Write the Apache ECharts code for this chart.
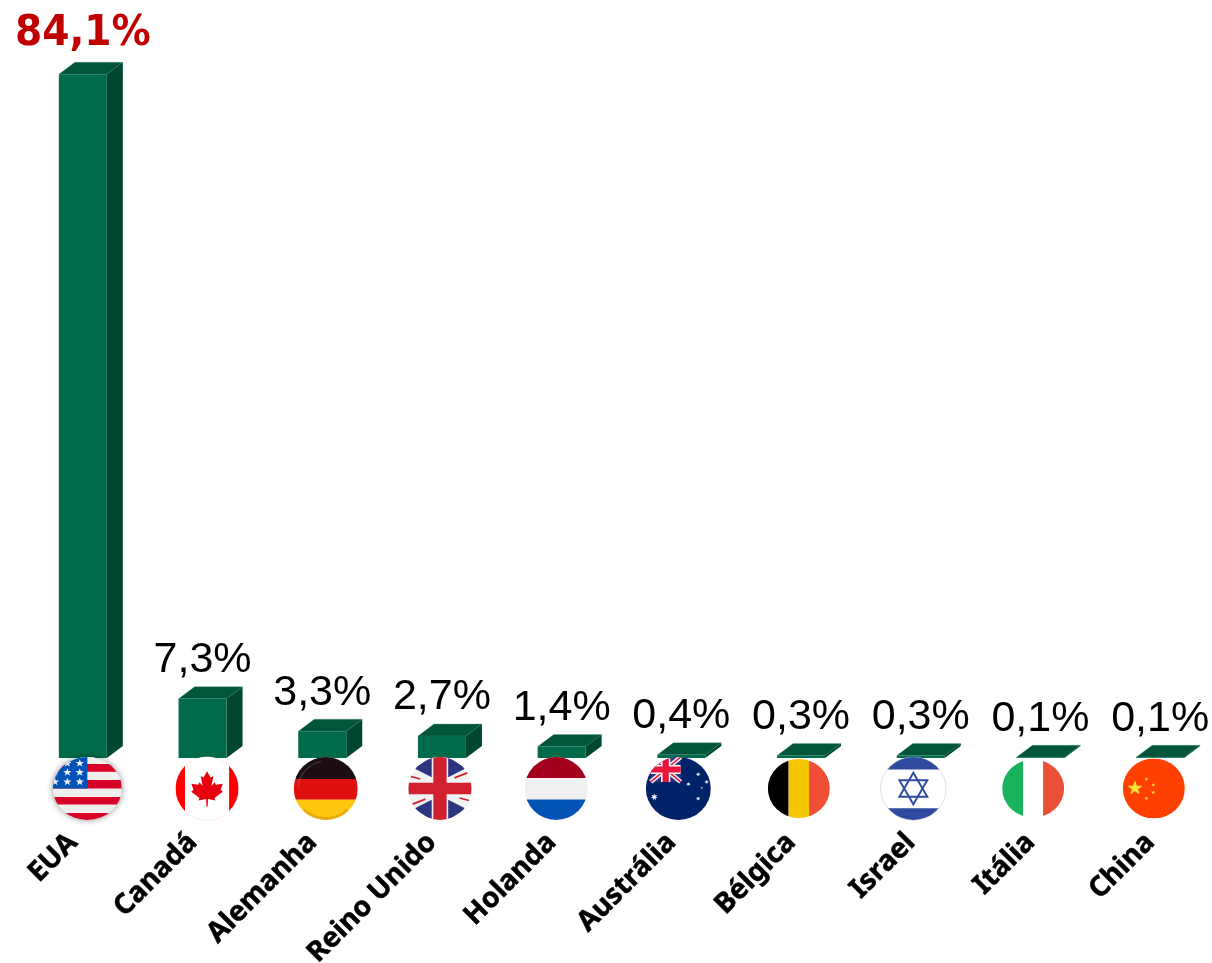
<!DOCTYPE html>
<html><head><meta charset="utf-8">
<style>html,body{margin:0;padding:0;background:#fff;overflow:hidden}#c{width:1212px;height:963px}</style>
<script src="https://cdn.jsdelivr.net/npm/echarts@6/dist/echarts.min.js"></script>
</head><body><div id="c"></div>
<script>
const categories = ['EUA','Canadá','Alemanha','Reino Unido','Holanda','Austrália','Bélgica','Israel','Itália','China'];
const shares = [84.1,7.3,3.3,2.7,1.4,0.4,0.3,0.3,0.1,0.1];
const flagCodes = ['us','ca','de','gb','nl','au','be','il','it','cn'];

const FRONT_W=48, DX=16, DY=12;
const flagDX=[4.5,4.5,3.5,-2,-5.5,-3,-2.2,-7.4,-7.3,-6.3], flagRX=[34.5,31.5,32,31.7,31.5,32.5,31,32.5,31,31], flagRY=[31.5,31.5,31.5,31.5,31.5,31.5,29.5,31.5,29,30];

function rect(x,y,w,h,fill){return {type:'rect',shape:{x,y,width:w,height:h},style:{fill}};}
function poly(points,fill,extra){return {type:'polygon',shape:{points},style:Object.assign({fill},extra||{})};}
function ln(x1,y1,x2,y2,stroke,lw){return {type:'line',shape:{x1,y1,x2,y2},style:{stroke,lineWidth:lw}};}
function star(cx,cy,R,fill,n){n=n||5;const p=[];const r=n===5?R*0.4:R*0.45;
  for(let i=0;i<n*2;i++){const a=-Math.PI/2+i*Math.PI/n,q=i%2?r:R;p.push([cx+q*Math.cos(a),cy+q*Math.sin(a)]);}
  return poly(p,fill);}
function unionJack(x0,y0,x1,y1,lwScale){
  const cx=(x0+x1)/2,cy=(y0+y1)/2,s=lwScale;
  return [rect(x0,y0,x1-x0,y1-y0,'#2b3580'),
    ln(x0,y0,x1,y1,'#f4f4f4',24*s),ln(x0,y1,x1,y0,'#f4f4f4',24*s),
    ln(x0,y0,x1,y1,'#e8163c',8*s),ln(x0,y1,x1,y0,'#e8163c',8*s),
    rect(cx-24*s,y0,48*s,y1-y0,'#f4f4f4'),rect(x0,cy-24*s,x1-x0,48*s,'#f4f4f4'),
    rect(cx-16*s,y0,32*s,y1-y0,'#e8163c'),rect(x0,cy-16*s,x1-x0,32*s,'#e8163c')];
}
const leaf=[[0,-55],[-11,-35],[-20,-40],[-14,-8],[-24,-20],[-28,-12],[-50,-15],[-43,4],[-50,10],[-24,30],[-27,38],[-3,33],[-2,57],[2,57],[3,33],[27,38],[24,30],[50,10],[43,4],[50,-15],[28,-12],[24,-20],[14,-8],[20,-40],[11,-35]];
const flags={
 us(){const r=[rect(-100,-100,200,200,'#eeeeee')];
   [[-78,25],[-27,27],[27,24],[78,22]].forEach(s=>r.push(rect(-100,s[0],200,s[1],'#d80027')));
   r.push(rect(-100,-100,100,100,'#0052b4'));
   [[-22,-80],[-58,-80],[-22,-51],[-58,-51],[-94,-51],[-22,-21],[-58,-21],[-94,-21]].forEach(c=>r.push(star(c[0],c[1],13,'#eeeeee')));
   return r;},
 ca(){return [rect(-100,-100,200,200,'#ffffff'),rect(-100,-100,30,200,'#ff0000'),rect(70,-100,30,200,'#ff0000'),poly(leaf,'#e8000f')];},
 de(){return [rect(-100,-100,200,70,'#1c0d10'),rect(-100,-30,200,66,'#e01010'),rect(-100,36,200,64,'#ffc60f'),
   {type:'arc',shape:{cx:0,cy:0,r:86,startAngle:Math.PI*1.02,endAngle:Math.PI*1.45},style:{fill:null,stroke:'rgba(255,255,255,0.15)',lineWidth:4}},
   {type:'arc',shape:{cx:0,cy:0,r:96,startAngle:Math.PI*0.25,endAngle:Math.PI*0.75},style:{fill:null,stroke:'rgba(190,130,0,0.4)',lineWidth:10}}];},
 gb(){const b='#2b3580',red='#d2202f';
   return [rect(-100,-100,200,200,'#f2f2f2'),
   poly([[-82,-64],[-26,-100],[-26,-36]],b),poly([[26,-100],[82,-64],[26,-36]],b),
   poly([[-82,64],[-26,100],[-26,36]],b),poly([[26,100],[82,64],[26,36]],b),
   ln(-92,-38,-62,-30,red,5),ln(92,38,62,30,red,5),ln(92,-52,46,-34,red,6),ln(-92,52,-46,34,red,6),
   rect(-21,-100,42,200,red),rect(-100,-18,200,36,red)];},
 nl(){return [rect(-100,-100,200,67,'#a2001d'),rect(-100,-33,200,68,'#f0f0f0'),rect(-100,35,200,65,'#0052b4')];},
 au(){return [rect(-100,-100,200,200,'#002268')].concat(unionJack(-85,-100,7,-21,0.6),[
   star(-74,27,11,'#f0f0f0',7),star(61,-45,7,'#f0f0f0',7),star(31,-14,7,'#f0f0f0',7),star(87,-21,7,'#f0f0f0',7),star(61,32,7,'#f0f0f0',7),star(72,-2,4,'#f0f0f0',5)]);},
 be(){return [rect(-100,-100,67,200,'#000000'),rect(-33,-100,66,200,'#f4c600'),rect(33,-100,67,200,'#ee4f35')];},
 il(){const b='#2f4b9f',o={fill:null,stroke:b,lineWidth:6,lineJoin:'miter'};
   return [rect(-100,-100,200,200,'#ffffff'),rect(-100,-100,200,40,b),rect(-100,63,200,37,b),
   poly([[0,-50],[43,26],[-43,26]],null,o),poly([[0,50],[43,-26],[-43,-26]],null,o)];},
 it(){return [rect(-100,-100,68,200,'#19b25d'),rect(-32,-100,64,200,'#ffffff'),rect(32,-100,68,200,'#ea4f38')];},
 cn(){return [rect(-100,-100,200,200,'#ff4000'),star(-61,-1,26,'#ffe033'),star(-24,-31,7,'#ffe033'),star(-2,-12,7,'#ffe033'),star(-2,13,7,'#ffe033'),star(-24,33,7,'#ffe033')];}
};

const chart=echarts.init(document.getElementById('c'),null,{renderer:'canvas'});
const pts=shares.map((v,i)=>[i,v]);
chart.setOption({
 animation:false,
 grid:{left:23,width:1197,top:26.3,height:731.7,containLabel:false,outerBoundsMode:'none'},
 xAxis:{type:'category',data:categories,axisLine:{show:false},axisTick:{show:false},
   axisLabel:{interval:0,rotate:45,margin:90,align:'right',verticalAlign:'bottom',color:'#000',fontFamily:'"Noto Sans"',fontWeight:'bold',fontSize:28,textBorderColor:'#000',textBorderWidth:0.5}},
 yAxis:{type:'value',min:0,max:90,show:false,splitLine:{show:false}},
 series:[
 {type:'custom',coordinateSystem:'cartesian2d',clip:false,data:pts,encode:{x:0,y:1},z:2,
  renderItem(params,api){
    const i=api.value(0),v=api.value(1);
    const top=api.coord([i,v]),base=api.coord([i,0]);
    const x0=top[0]-24,x1=x0+FRONT_W,yT=top[1],yB=base[1];
    const big=i===0;
    return {type:'group',children:[
      {type:'polygon',shape:{points:[[x0,yT],[x1,yT],[x1+DX,yT-DY],[x0+DX,yT-DY]]},style:{fill:'#00553b',stroke:'#5f9b86',lineWidth:0.3}},
      {type:'polygon',shape:{points:[[x1,yT],[x1+DX,yT-DY],[x1+DX,yB-DY],[x1,yB]]},style:{fill:'#00472f'}},
      {type:'rect',shape:{x:x0,y:yT,width:FRONT_W,height:yB-yT},style:{fill:'#006b4b'}},
      {type:'text',x:top[0],y:yT-DY-(big?7:5),style:{text:v.toFixed(1).replace('.',',')+'%',
        fill:big?'#c00000':'#000000',align:'center',verticalAlign:'bottom',
        font:big?'bold 43.5px "DejaVu Sans Condensed","DejaVu Sans"':'43px "Liberation Sans"'}}
    ]};
  }},
 {type:'custom',coordinateSystem:'cartesian2d',clip:false,data:pts.map(p=>[p[0],0]),encode:{x:0,y:1},z:3,
  renderItem(params,api){
    const i=api.value(0),base=api.coord([i,0]);
    const rx=flagRX[i],ry=flagRY[i];
    const g={type:'group',x:base[0]+flagDX[i],y:base[1]+30.5,scaleX:rx/100,scaleY:ry/100,
      clipPath:{type:'circle',shape:{cx:0,cy:0,r:100}},children:flags[flagCodes[i]]()};
    const under={type:'ellipse',shape:{cx:base[0]+flagDX[i],cy:base[1]+30.5,rx:rx,ry:ry},
      style:i===0?{fill:'#ddd',shadowBlur:6,shadowColor:'rgba(0,0,0,0.45)'}:{fill:'#fff',stroke:i===1?'#ffc8c8':(i===7?'#aaaaaa':null),lineWidth:0.6}};
    return {type:'group',children:[under,g]};
  }}
 ]
});
</script></body></html>
